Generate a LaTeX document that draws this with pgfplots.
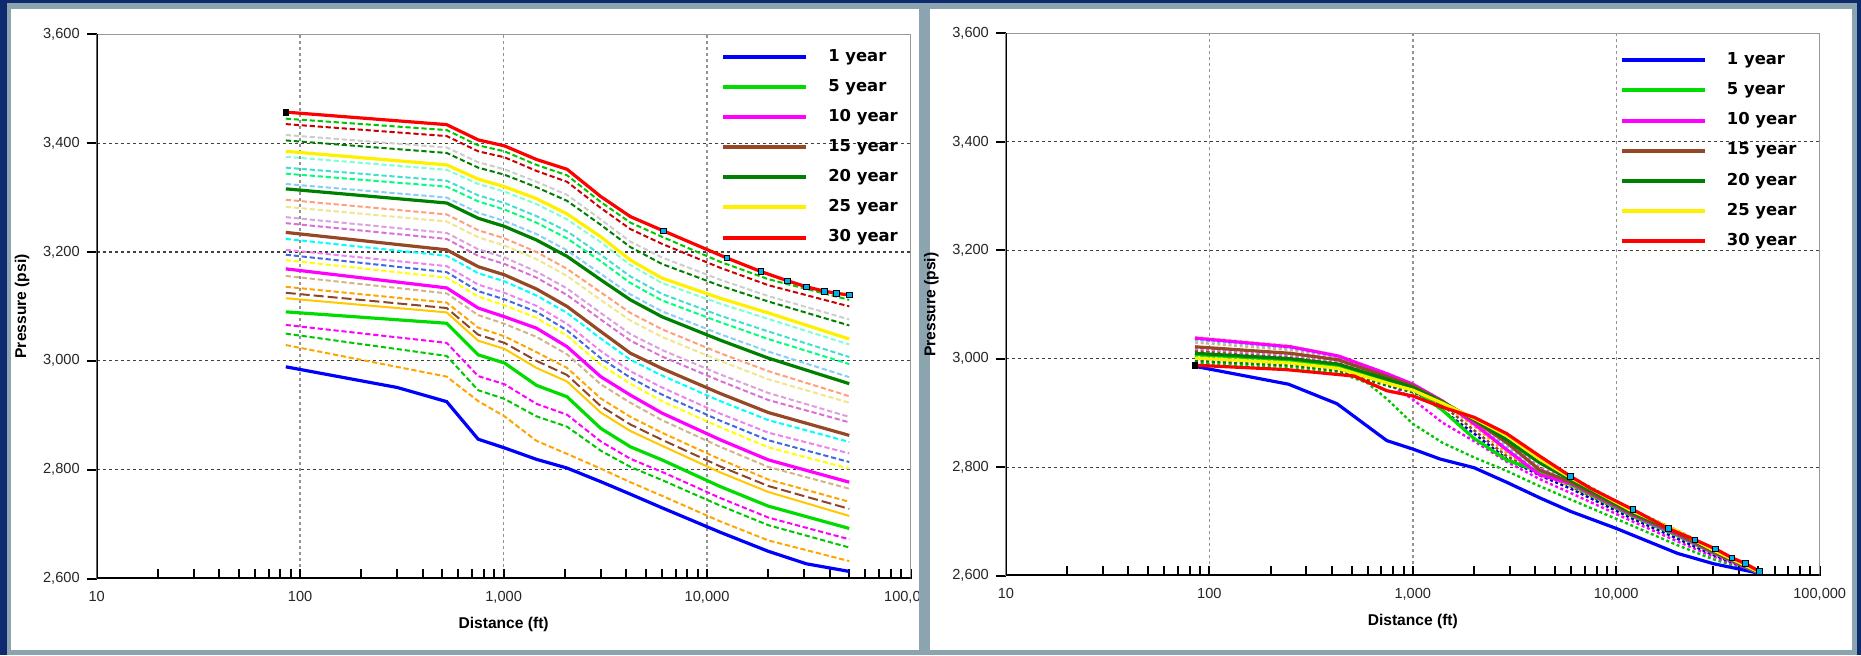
\documentclass[border=0pt]{standalone}
\usepackage{fontspec}
\setmainfont{Liberation Sans}
\newfontfamily\legfont{DejaVu Sans}
\usepackage{pgfplots}
\pgfplotsset{compat=1.18}
\definecolor{navyb}{RGB}{14,42,110}
\definecolor{grayb}{RGB}{140,163,176}
\definecolor{cA}{RGB}{0,0,255}
\definecolor{cB}{RGB}{0,220,0}
\definecolor{cC}{RGB}{255,0,255}
\definecolor{cD}{RGB}{150,72,38}
\definecolor{cE}{RGB}{0,128,0}
\definecolor{cF}{RGB}{255,240,0}
\definecolor{cG}{RGB}{255,0,0}
\definecolor{dOrange}{RGB}{255,165,0}
\definecolor{dGreen}{RGB}{0,200,0}
\definecolor{dGold}{RGB}{255,200,0}
\definecolor{dBrown}{RGB}{140,70,40}
\definecolor{dTan}{RGB}{210,180,140}
\definecolor{dYellow}{RGB}{255,255,0}
\definecolor{dRoyal}{RGB}{65,105,225}
\definecolor{dViolet}{RGB}{238,130,238}
\definecolor{dCyan}{RGB}{0,255,255}
\definecolor{dOrchid}{RGB}{218,112,214}
\definecolor{dPlum}{RGB}{221,160,221}
\definecolor{dKhaki}{RGB}{240,230,140}
\definecolor{dSalmon}{RGB}{255,160,122}
\definecolor{dSky}{RGB}{135,206,250}
\definecolor{dSpring}{RGB}{0,255,127}
\definecolor{dTurq}{RGB}{64,224,208}
\definecolor{dAqua}{RGB}{127,255,212}
\definecolor{dDkGreen}{RGB}{0,128,0}
\definecolor{dLGray}{RGB}{205,205,205}
\definecolor{dDkRed}{RGB}{204,0,0}
\definecolor{dNavy}{RGB}{0,0,200}
\definecolor{dLBlue}{RGB}{100,180,255}
\definecolor{dPeach}{RGB}{250,190,130}
\pgfplotsset{
  ld/.style={line width=1pt, dash pattern=on 2.6pt off 1.4pt, forget plot},
  rd/.style={line width=1.2pt, dash pattern=on 1.5pt off 1.3pt, forget plot},
  sl/.style={line width=1.6pt},
  mk/.style={only marks, mark=square*, mark size=1.4pt, mark options={fill=cyan, draw=black, line width=0.4pt}, forget plot},
}
\pgfplotsset{
  chart/.style={
    scale only axis, width=406.9pt,
    xmin=10, xmax=100000, ymin=2600, ymax=3600,
    xtick={10,100,1000,10000,100000},
    xticklabels={10,100,{1,000},{10,000},{100,000}},
    minor xtick={20,30,40,50,60,70,80,90,200,300,400,500,600,700,800,900,2000,3000,4000,5000,6000,7000,8000,9000,20000,30000,40000,50000,60000,70000,80000,90000},
    ytick={2600,2800,3000,3200,3400,3600},
    yticklabels={{2,600},{2,800},{3,000},{3,200},{3,400},{3,600}},
    xtick pos=bottom, ytick pos=left,
    xtick align=inside, ytick align=outside,
    major tick length=5pt, minor tick length=5pt,
    tick style={black, line width=1pt},
    grid=major,
    x grid style={gray!85, line width=0.7pt, dash pattern=on 1.5pt off 1.5pt},
    y grid style={black!75, line width=0.6pt, dash pattern=on 1.5pt off 1.5pt},
    axis line style={draw=gray!80, line width=0.7pt},
    tick label style={font=\fontsize{7.3}{8}\selectfont, text=black!85},
    xticklabel style={yshift=-3pt},
    label style={font=\fontsize{7.8}{8.5}\selectfont\bfseries},
    xlabel={Distance (ft)}, ylabel={Pressure (psi)},
    legend style={draw=none, fill=none, inner sep=0pt, row sep=6.95pt, column sep=10pt,
      font=\legfont\bfseries\fontsize{8.2}{9}\selectfont,
      nodes={inner sep=0pt, text height=6.2pt, text depth=1.9pt}},
    legend cell align=left,
    legend image code/.code={\draw[##1, line width=2pt, solid] (0pt,0pt) -- (41.5pt,0pt);},
  },
}
\begin{document}
\begin{tikzpicture}
\useasboundingbox (0,0) rectangle (930.5pt,327.5pt);
\fill[navyb] (0,0) rectangle (930.5pt,327.5pt);
\fill[grayb] (3.5pt,0) rectangle (928.5pt,325.85pt);
\fill[white] (5.35pt,2.75pt) rectangle (459.5pt,322.9pt);
\begin{semilogxaxis}[chart, at={(48.35pt,38.25pt)}, anchor=south west, height=272.1pt,
  legend style={at={(0.767,0.974)}, anchor=north west}]
% dashed intermediate years
\addplot[ld, dOrange] coordinates {(85,3029)(525,2971)(750,2926)(1010,2898)(1450,2853)(2050,2829)(3000,2802)(4200,2777)(6000,2752)(11600,2705)(20000,2670)(50000,2632)};
\addplot[ld, dGreen] coordinates {(85,3050)(525,3009)(750,2946)(1010,2930)(1450,2898)(2050,2879)(3000,2835)(4200,2805)(6000,2781)(11600,2734)(20000,2698)(50000,2657)};
\addplot[ld, cC] coordinates {(85,3066)(525,3033)(750,2972)(1010,2957)(1450,2921)(2050,2901)(3000,2852)(4200,2820)(6000,2796)(11600,2748)(20000,2712)(50000,2672)};
\addplot[line width=1pt, dGold, forget plot] coordinates {(85,3115)(525,3089)(750,3037)(1010,3022)(1450,2987)(2050,2962)(3000,2905)(4200,2871)(6000,2844)(11600,2795)(20000,2759)(50000,2715)};
\addplot[line width=1pt, dBrown, dash pattern=on 5pt off 2pt, forget plot] coordinates {(85,3125)(525,3097)(750,3048)(1010,3033)(1450,3000)(2050,2974)(3000,2917)(4200,2883)(6000,2855)(11600,2806)(20000,2770)(50000,2728)};
\addplot[ld, dOrange] coordinates {(85,3136)(525,3107)(750,3061)(1010,3045)(1450,3016)(2050,2987)(3000,2931)(4200,2897)(6000,2868)(11600,2819)(20000,2782)(50000,2741)};
\addplot[ld, dTan] coordinates {(85,3156)(525,3124)(750,3084)(1010,3068)(1450,3044)(2050,3012)(3000,2957)(4200,2923)(6000,2891)(11600,2842)(20000,2805)(50000,2765)};
\addplot[ld, dYellow] coordinates {(85,3185)(525,3153)(750,3118)(1010,3102)(1450,3079)(2050,3046)(3000,2993)(4200,2958)(6000,2926)(11600,2878)(20000,2841)(50000,2802)};
\addplot[ld, dRoyal] coordinates {(85,3195)(525,3163)(750,3128)(1010,3113)(1450,3090)(2050,3056)(3000,3005)(4200,2969)(6000,2938)(11600,2890)(20000,2854)(50000,2814)};
\addplot[ld, dViolet] coordinates {(85,3204)(525,3174)(750,3140)(1010,3125)(1450,3101)(2050,3068)(3000,3018)(4200,2981)(6000,2951)(11600,2903)(20000,2868)(50000,2830)};
\addplot[ld, dCyan] coordinates {(85,3224)(525,3193)(750,3161)(1010,3146)(1450,3120)(2050,3088)(3000,3041)(4200,3002)(6000,2973)(11600,2926)(20000,2891)(50000,2851)};
\addplot[ld, dOrchid] coordinates {(85,3253)(525,3224)(750,3193)(1010,3178)(1450,3153)(2050,3121)(3000,3076)(4200,3037)(6000,3008)(11600,2963)(20000,2928)(50000,2887)};
\addplot[ld, dPlum] coordinates {(85,3264)(525,3235)(750,3205)(1010,3190)(1450,3164)(2050,3133)(3000,3088)(4200,3049)(6000,3020)(11600,2975)(20000,2941)(50000,2897)};
\addplot[ld, dKhaki] coordinates {(85,3283)(525,3256)(750,3227)(1010,3212)(1450,3187)(2050,3156)(3000,3112)(4200,3074)(6000,3044)(11600,3000)(20000,2966)(50000,2923)};
\addplot[ld, dSalmon] coordinates {(85,3296)(525,3269)(750,3240)(1010,3225)(1450,3200)(2050,3169)(3000,3126)(4200,3088)(6000,3058)(11600,3014)(20000,2981)(50000,2935)};
\addplot[ld, dSky] coordinates {(85,3325)(525,3300)(750,3272)(1010,3257)(1450,3233)(2050,3203)(3000,3160)(4200,3122)(6000,3091)(11600,3049)(20000,3017)(50000,2970)};
\addplot[ld, dSpring] coordinates {(85,3344)(525,3320)(750,3293)(1010,3278)(1450,3254)(2050,3225)(3000,3183)(4200,3143)(6000,3111)(11600,3071)(20000,3040)(50000,2994)};
\addplot[ld, dTurq] coordinates {(85,3355)(525,3331)(750,3304)(1010,3290)(1450,3266)(2050,3238)(3000,3195)(4200,3155)(6000,3123)(11600,3083)(20000,3054)(50000,3007)};
\addplot[ld, dAqua] coordinates {(85,3375)(525,3351)(750,3325)(1010,3311)(1450,3288)(2050,3260)(3000,3218)(4200,3176)(6000,3143)(11600,3105)(20000,3077)(50000,3030)};
\addplot[ld, dDkGreen] coordinates {(85,3405)(525,3382)(750,3355)(1010,3342)(1450,3319)(2050,3294)(3000,3250)(4200,3209)(6000,3178)(11600,3138)(20000,3109)(50000,3065)};
\addplot[ld, dLGray] coordinates {(85,3415)(525,3392)(750,3365)(1010,3352)(1450,3329)(2050,3305)(3000,3260)(4200,3219)(6000,3190)(11600,3149)(20000,3119)(50000,3076)};
\addplot[ld, dDkRed] coordinates {(85,3435)(525,3413)(750,3385)(1010,3374)(1450,3349)(2050,3329)(3000,3281)(4200,3242)(6000,3215)(11600,3171)(20000,3139)(50000,3100)};
\addplot[ld, dGreen] coordinates {(85,3445)(525,3424)(750,3396)(1010,3385)(1450,3360)(2050,3341)(3000,3292)(4200,3254)(6000,3228)(11600,3182)(20000,3150)(50000,3112)};
% solid years
\addplot[sl, cA] coordinates {(85,2989)(300,2951)(525,2925)(750,2856)(1010,2840)(1450,2819)(2050,2803)(3000,2778)(4200,2755)(6000,2730)(11600,2685)(20000,2650)(30800,2627)(50000,2613)};
\addlegendentry{1 year}
\addplot[sl, cB] coordinates {(85,3090)(525,3069)(750,3011)(1010,2996)(1450,2955)(2050,2934)(3000,2876)(4200,2842)(6000,2818)(11600,2769)(20000,2733)(50000,2692)};
\addlegendentry{5 year}
\addplot[sl, cC] coordinates {(85,3169)(525,3134)(750,3097)(1010,3081)(1450,3060)(2050,3026)(3000,2971)(4200,2937)(6000,2904)(11600,2855)(20000,2818)(50000,2777)};
\addlegendentry{10 year}
\addplot[sl, cD] coordinates {(85,3236)(525,3204)(750,3173)(1010,3158)(1450,3132)(2050,3100)(3000,3054)(4200,3014)(6000,2986)(11600,2940)(20000,2905)(50000,2863)};
\addlegendentry{15 year}
\addplot[sl, cE] coordinates {(85,3316)(525,3290)(750,3262)(1010,3247)(1450,3222)(2050,3192)(3000,3149)(4200,3112)(6000,3081)(11600,3038)(20000,3005)(50000,2958)};
\addlegendentry{20 year}
\addplot[sl, cF] coordinates {(85,3385)(525,3360)(750,3334)(1010,3320)(1450,3298)(2050,3270)(3000,3228)(4200,3185)(6000,3152)(11600,3115)(20000,3088)(50000,3040)};
\addlegendentry{25 year}
\addplot[sl, cG] coordinates {(85,3457)(525,3434)(750,3406)(1010,3395)(1450,3370)(2050,3352)(3000,3302)(4200,3265)(6085,3239)(12500,3189)(18400,3164)(24900,3147)(30800,3136)(37700,3128)(43300,3124)(50000,3121)};
\addlegendentry{30 year}
\addplot[mk] coordinates {(6085,3239)(12500,3189)(18400,3164)(24900,3147)(30800,3136)(37700,3128)(43300,3124)(50000,3121)};
\addplot[mk, mark options={fill=black}] coordinates {(85,3457)};
\draw[black, line width=1.3pt] (rel axis cs:0,1) -- (rel axis cs:0,0) -- (rel axis cs:1,0);
\end{semilogxaxis}
\fill[grayb] (459.5pt,0) rectangle (465pt,325.85pt);
\fill[white] (465pt,2.75pt) rectangle (926pt,322.9pt);
\begin{semilogxaxis}[chart, at={(502.95pt,39.7pt)}, anchor=south west, height=271.1pt,
  legend style={at={(0.754,0.966)}, anchor=north west}]
\addplot[rd, dGreen] coordinates {(85,2992)(250,2985)(430,2975)(600,2955)(750,2925)(1000,2880)(1400,2845)(2000,2818)(2900,2793)(4200,2765)(6000,2740)(12000,2692)(20000,2656)(30000,2630)(50000,2605)};
\addplot[rd, cC] coordinates {(85,2998)(250,2990)(430,2980)(750,2955)(1000,2925)(1400,2882)(2000,2848)(2900,2810)(4200,2778)(6000,2752)(12000,2700)(20000,2663)(30000,2635)(50000,2605)};
\addplot[rd, dNavy] coordinates {(85,3004)(250,2995)(430,2985)(750,2958)(1000,2942)(1400,2905)(2000,2862)(2900,2815)(4200,2785)(6000,2760)(12000,2705)(20000,2668)(30000,2638)(50000,2605)};
\addplot[rd, dBrown] coordinates {(85,3015)(250,3004)(430,2992)(750,2963)(1000,2947)(1400,2914)(2000,2868)(2900,2820)(4200,2790)(6000,2764)(12000,2709)(20000,2673)(30000,2641)(50000,2605)};
\addplot[rd, dOrange] coordinates {(85,3022)(250,3010)(430,2997)(750,2967)(1000,2950)(1400,2918)(2000,2876)(2900,2826)(4200,2788)(6000,2766)(12000,2710)(20000,2674)(30000,2642)(50000,2605)};
\addplot[rd, dTan] coordinates {(85,3030)(250,3016)(430,3001)(750,2970)(1000,2952)(1400,2920)(2000,2880)(2900,2830)(4200,2787)(6000,2768)(12000,2711)(20000,2676)(30000,2643)(50000,2605)};
\addplot[rd, dCyan] coordinates {(85,3035)(250,3020)(430,3004)(750,2972)(1000,2953)(1400,2922)(2000,2882)(2900,2834)(4200,2787)(6000,2769)(12000,2712)(20000,2677)(30000,2643)(50000,2605)};
\addplot[rd, dLBlue] coordinates {(85,3036)(250,3020)(430,3003)(750,2971)(1000,2952)(1400,2922)(2000,2884)(2900,2840)(4200,2790)(6000,2771)(12000,2713)(20000,2678)(30000,2643)(50000,2606)};
\addplot[rd, dPeach] coordinates {(85,3040)(250,3024)(430,3006)(750,2973)(1000,2954)(1400,2922)(2000,2885)(2900,2843)(4200,2793)(6000,2772)(12000,2714)(20000,2679)(30000,2644)(50000,2606)};
\addplot[rd, dOrchid] coordinates {(85,3018)(250,3006)(430,2995)(750,2965)(1000,2949)(1400,2921)(2000,2887)(2900,2848)(4200,2800)(6000,2774)(12000,2715)(20000,2680)(30000,2645)(50000,2606)};
\addplot[rd, dSpring] coordinates {(85,3006)(250,2997)(430,2987)(750,2960)(1000,2945)(1400,2919)(2000,2889)(2900,2854)(4200,2812)(6000,2778)(12000,2718)(20000,2681)(30000,2647)(50000,2606)};
\addplot[rd, dDkGreen] coordinates {(85,2996)(250,2988)(430,2978)(750,2950)(1000,2938)(1400,2915)(2000,2891)(2900,2860)(4200,2818)(6000,2782)(12000,2721)(20000,2683)(30000,2649)(50000,2607)};
\addplot[sl, cA] coordinates {(85,2986)(245,2953)(424,2917)(745,2849)(1007,2833)(1362,2815)(2000,2799)(2900,2772)(4230,2743)(6000,2718)(10000,2687)(20000,2641)(30000,2622)(49400,2605)};
\addlegendentry{1 year}
\addplot[sl, cB] coordinates {(85,3008)(250,2998)(430,2985)(750,2960)(1000,2945)(1400,2905)(2000,2853)(2900,2813)(4200,2792)(6000,2768)(12000,2710)(20000,2674)(30000,2642)(50000,2605)};
\addlegendentry{5 year}
\addplot[sl, cC] coordinates {(85,3038)(250,3022)(430,3005)(750,2972)(1000,2953)(1400,2922)(2000,2880)(2900,2832)(4200,2786)(6000,2770)(12000,2712)(20000,2676)(30000,2643)(50000,2605)};
\addlegendentry{10 year}
\addplot[sl, cD] coordinates {(85,3022)(250,3010)(430,2998)(750,2967)(1000,2950)(1400,2921)(2000,2886)(2900,2845)(4200,2795)(6000,2772)(12000,2714)(20000,2678)(30000,2644)(50000,2606)};
\addlegendentry{15 year}
\addplot[sl, cE] coordinates {(85,3010)(250,3000)(430,2990)(750,2962)(1000,2947)(1400,2920)(2000,2888)(2900,2850)(4200,2808)(6000,2776)(12000,2716)(20000,2680)(30000,2646)(50000,2606)};
\addlegendentry{20 year}
\addplot[sl, cF] coordinates {(85,3001)(250,2992)(430,2982)(750,2955)(1000,2942)(1400,2918)(2000,2890)(2900,2858)(4200,2815)(6000,2780)(12000,2719)(20000,2682)(30000,2647)(50000,2607)};
\addlegendentry{25 year}
\addplot[sl, cG] coordinates {(85,2988)(238,2980)(515,2968)(745,2941)(1007,2931)(1360,2912)(2000,2892)(2890,2862)(4220,2820)(5970,2783)(7470,2761)(12050,2722)(18000,2687)(24400,2666)(30800,2649)(37000,2633)(43200,2622)(50400,2608)};
\addlegendentry{30 year}
\addplot[mk] coordinates {(5970,2783)(12050,2722)(18000,2687)(24400,2666)(30800,2649)(37000,2633)(43200,2622)(50400,2608)};
\addplot[mk, mark options={fill=black}] coordinates {(85,2988)};
\draw[black, line width=1.3pt] (rel axis cs:0,1) -- (rel axis cs:0,0) -- (rel axis cs:1,0);
\end{semilogxaxis}
\end{tikzpicture}
\end{document}
